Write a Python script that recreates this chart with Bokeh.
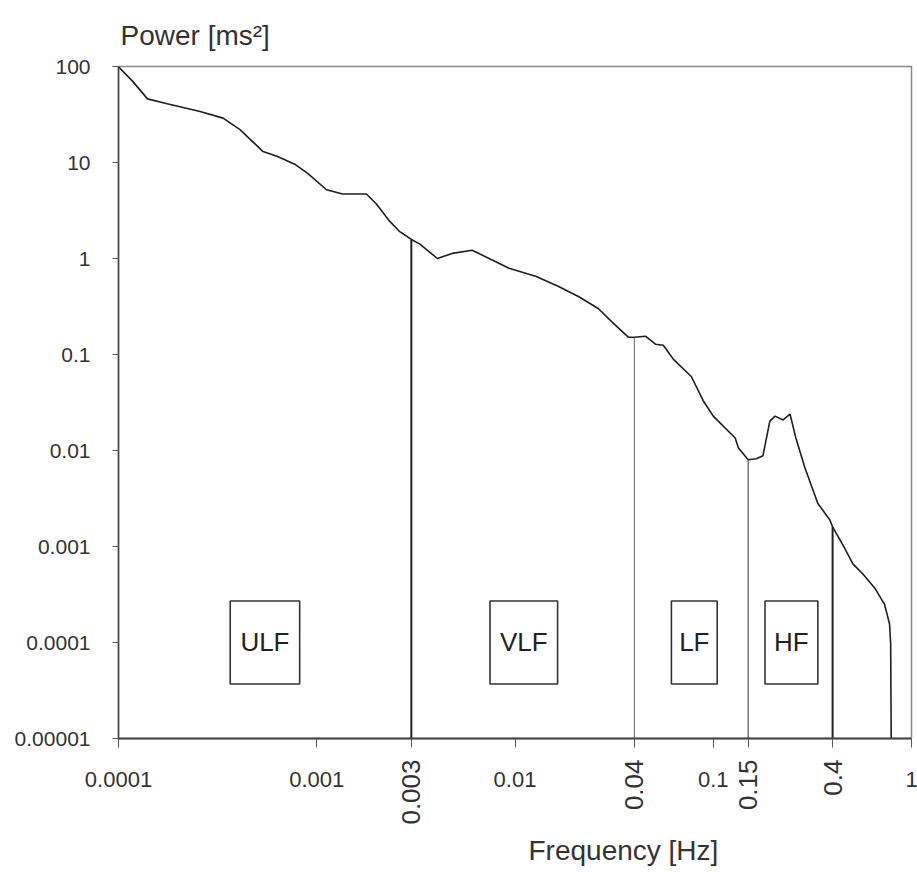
import math
from bokeh.plotting import figure
from bokeh.models import (ColumnDataSource, FixedTicker, LogAxis, Title)
from bokeh.core.properties import value
from bokeh.embed import file_html
from bokeh.resources import INLINE

# ---------------- data ----------------
freq_hz = [1.0e-4, 1.18e-4, 1.40e-4, 1.76e-4, 2.58e-4, 3.37e-4, 4.1e-4, 5.36e-4,
           6.3e-4, 7.74e-4, 9.0e-4, 1.12e-3, 1.35e-3, 1.78e-3, 2.0e-3, 2.33e-3,
           2.61e-3, 3.0e-3, 3.3e-3, 4.06e-3, 4.82e-3, 6.08e-3, 7.4e-3, 9.33e-3,
           0.0128, 0.0166, 0.021, 0.0264, 0.0307, 0.0374, 0.040, 0.0455, 0.0511,
           0.056, 0.063, 0.0775, 0.089, 0.100, 0.129, 0.134, 0.150, 0.165, 0.178,
           0.193, 0.205, 0.225, 0.244, 0.261, 0.290, 0.337, 0.387, 0.400, 0.460,
           0.506, 0.567, 0.652, 0.731, 0.775, 0.785, 0.790]
power_ms2 = [99, 70, 46, 41, 34, 29, 22, 13,
             11.6, 9.6, 7.7, 5.2, 4.7, 4.7, 3.7, 2.45,
             1.92, 1.58, 1.42, 1.0, 1.13, 1.22, 1.0, 0.79,
             0.65, 0.51, 0.40, 0.30, 0.22, 0.151, 0.151, 0.155, 0.128,
             0.125, 0.089, 0.059, 0.033, 0.0228, 0.0135, 0.0106, 0.0080, 0.0082, 0.0088,
             0.0202, 0.0228, 0.0208, 0.0239, 0.0135, 0.0066, 0.0028, 0.0019, 0.0016, 0.00096,
             0.00066, 0.00052, 0.00037, 0.00025, 0.000156, 0.000097, 0.00001]

band_edges_hz = [0.003, 0.04, 0.15, 0.4]
band_edge_labels = ["0.003", "0.04", "0.15", "0.4"]
band_edge_power = [1.58, 0.151, 0.0080, 0.0016]

band_names = ["ULF", "VLF", "LF", "HF"]
band_box_left = [3.66e-4, 7.48e-3, 0.0615, 0.1824]
band_box_right = [8.2e-4, 0.0164, 0.1047, 0.337]
band_box_top = [2.71e-4, 2.71e-4, 2.71e-4, 2.71e-4]
band_box_bottom = [3.7e-5, 3.7e-5, 3.7e-5, 3.7e-5]

x_ticks = [1e-4, 1e-3, 1e-2, 1e-1, 1.0]
x_tick_labels = ["0.0001", "0.001", "0.01", "0.1", "1"]
y_ticks = [100, 10, 1, 0.1, 0.01, 0.001, 0.0001, 0.00001]
y_tick_labels = ["100", "10", "1", "0.1", "0.01", "0.001", "0.0001", "0.00001"]

FONT = "Liberation Sans"
TXT = "#333333"

p = figure(width=917, height=872, x_axis_type="log", y_axis_type="log",
           x_range=(1e-4, 1.0), y_range=(1e-5, 100),
           output_backend="svg", toolbar_location=None,
           min_border_left=118, min_border_right=6, min_border_top=66,
           min_border_bottom=134)
p.background_fill_color = "white"
p.border_fill_color = "white"
p.grid.visible = False
p.outline_line_color = "#8a8a8a"
p.outline_line_width = 1.5

# y title at the top-left
p.title.text = "Power [ms²]"
p.title.align = "left"
p.title.offset = 2
p.title.standoff = 32
p.title.text_font = FONT
p.title.text_font_size = "28px"
p.title.text_font_style = "normal"
p.title.text_color = TXT

# ---------------- y axis ----------------
ya = p.yaxis[0]
ya.ticker = FixedTicker(ticks=y_ticks, minor_ticks=[])
ya.major_label_overrides = {t: s for t, s in zip(y_ticks, y_tick_labels)}
ya.major_tick_in = 0
ya.major_tick_out = 6
ya.minor_tick_line_color = None
ya.major_label_standoff = 22
ya.major_label_text_font = FONT
ya.major_label_text_font_size = "21px"
ya.major_label_text_color = TXT
ya.axis_line_color = "#444444"
ya.axis_line_width = 1.5
ya.major_tick_line_color = "#555555"

# ---------------- x axis (decades, horizontal labels) ----------------
xa = p.xaxis[0]
xa.ticker = FixedTicker(ticks=x_ticks + band_edges_hz, minor_ticks=[])
ov = {t: s for t, s in zip(x_ticks, x_tick_labels)}
ov.update({t: "" for t in band_edges_hz})
xa.major_label_overrides = ov
xa.major_tick_in = 0
xa.major_tick_out = 9
xa.minor_tick_line_color = None
xa.major_label_standoff = 24
xa.major_label_text_font = FONT
xa.major_label_text_font_size = "22px"
xa.major_label_text_color = TXT
xa.axis_line_color = "#444444"
xa.axis_line_width = 1.8
xa.major_tick_line_color = "#555555"

# ---------------- x axis (band edges, vertical labels) ----------------
xb = LogAxis(ticker=FixedTicker(ticks=band_edges_hz, minor_ticks=[]))
xb.major_label_overrides = {t: s for t, s in zip(band_edges_hz, band_edge_labels)}
xb.major_label_orientation = math.pi / 2
xb.axis_line_color = None
xb.major_tick_line_color = None
xb.minor_tick_line_color = None
xb.major_tick_in = 0
xb.major_tick_out = 0
xb.major_label_standoff = -30
xb.major_label_text_font = FONT
xb.major_label_text_font_size = "26px"
xb.major_label_text_color = TXT
p.add_layout(xb, "below")

xt = Title(text="Frequency [Hz]", align="left", offset=410, standoff=10,
           text_font=FONT, text_font_size="28px", text_font_style="normal",
           text_color=TXT)
p.add_layout(xt, "below")

# ---------------- marks ----------------
p.line(freq_hz, power_ms2, line_color="#1e1e1e", line_width=1.6)

edges = ColumnDataSource(dict(x=band_edges_hz, top=band_edge_power,
                              bottom=[1e-5] * len(band_edges_hz),
                              w=[2.0, 1.0, 1.2, 2.0],
                              c=["#222222", "#666666", "#555555", "#222222"]))
p.segment(x0="x", y0="bottom", x1="x", y1="top", source=edges,
          line_width="w", line_color="c")

boxes = ColumnDataSource(dict(left=band_box_left, right=band_box_right,
                              top=band_box_top, bottom=band_box_bottom,
                              name=band_names,
                              cx=[(l * r) ** 0.5 for l, r in zip(band_box_left, band_box_right)],
                              cy=[(t * b) ** 0.5 for t, b in zip(band_box_top, band_box_bottom)]))
p.quad(left="left", right="right", top="top", bottom="bottom", source=boxes,
       fill_color=None, line_color="#333333", line_width=1.6)
p.text(x="cx", y="cy", text="name", source=boxes, text_align="center",
       text_baseline="middle", text_font=value(FONT),
       text_font_size="26px", text_color="#222222")

open("out.html", "w").write(file_html(p, INLINE))
